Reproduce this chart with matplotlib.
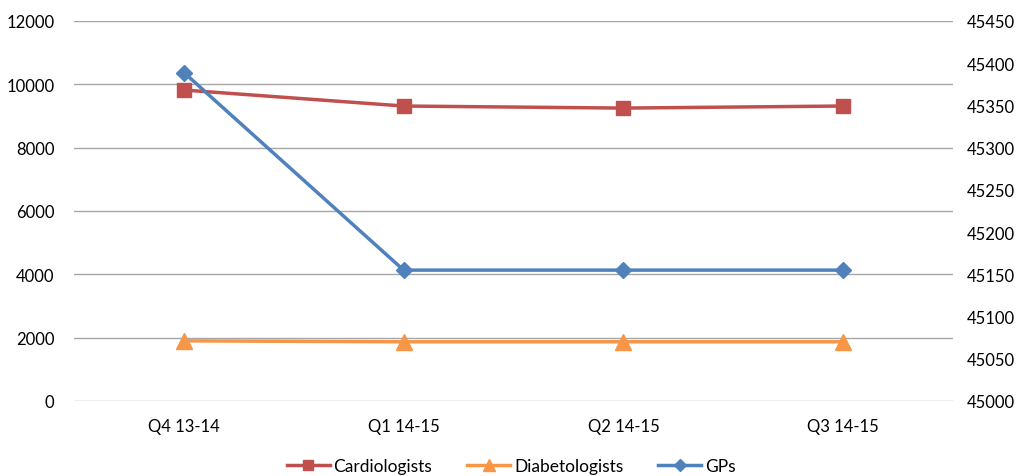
import matplotlib
matplotlib.use("Agg")
import matplotlib.pyplot as plt

categories = ["Q4 13-14", "Q1 14-15", "Q2 14-15", "Q3 14-15"]
cardiologists = [9820, 9315, 9250, 9315]
diabetologists = [1900, 1870, 1870, 1870]
gps = [45389, 45155, 45155, 45155]

plt.rcParams['font.family'] = ['Lato', 'DejaVu Sans']

fig = plt.figure(figsize=(10.22, 4.77), dpi=100)
ax = fig.add_axes([74/1022, 75/477, 879/1022, 380/477])
ax2 = ax.twinx()

x = list(range(len(categories)))
l1, = ax.plot(x, cardiologists, color="#C0504D", lw=2.5, marker="s", ms=10, label="Cardiologists")
l2, = ax.plot(x, diabetologists, color="#F79646", lw=2.5, marker="^", ms=11, label="Diabetologists")
l3, = ax2.plot(x, gps, color="#4F81BD", lw=2.5, marker="D", ms=8, label="GPs")

ax.set_ylim(0, 12000)
ax.set_yticks(range(0, 12001, 2000))
ax2.set_ylim(45000, 45450)
ax2.set_yticks(range(45000, 45451, 50))
ax.set_xlim(-0.5, 3.5)
ax.set_xticks(x)
ax.set_xticklabels(categories)
ax.grid(axis="y", color="#a6a6a6", lw=1)
ax.set_axisbelow(True)

for a in (ax, ax2):
    for s in ("top", "left", "right", "bottom"):
        a.spines[s].set_visible(False)
    a.tick_params(length=0, labelsize=12, colors="black")
ax.tick_params(axis="x", pad=12)
ax.tick_params(axis="y", pad=14)
ax2.tick_params(axis="y", pad=10)

fig.legend(handles=[l1, l2, l3], loc="center", bbox_to_anchor=(0.5, 10/477), ncol=3,
           frameon=False, fontsize=12.5, handlelength=2.5, columnspacing=2,
           handletextpad=0.2, markerscale=0.75)
fig.savefig("out.png", dpi=100)
